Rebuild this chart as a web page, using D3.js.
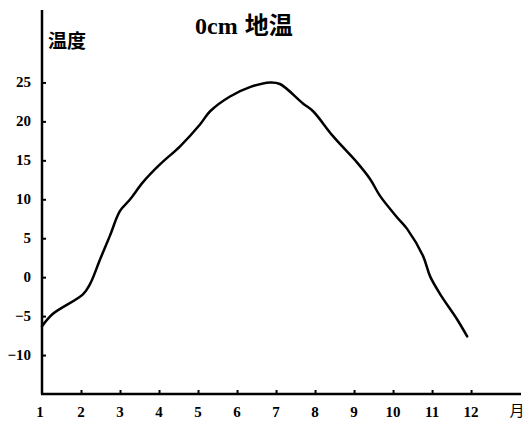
<!DOCTYPE html>
<html><head><meta charset="utf-8">
<script src="https://cdn.jsdelivr.net/npm/d3@7"></script>
<style>body{margin:0;background:#fff}</style>
</head><body>
<svg id="c" width="527" height="425"></svg>
<script>
const months = [1,1.28,2.05,2.23,2.49,2.74,3.0,3.26,3.59,4.03,4.54,5.05,5.31,5.82,6.33,6.85,7.1,7.69,7.95,8.46,9.08,9.41,9.67,10.1,10.36,10.77,10.95,11.21,11.64,11.9];
const temps  = [-6.3,-4.7,-2.2,-0.9,2.3,5.3,8.5,10.0,12.2,14.5,16.8,19.6,21.3,23.2,24.4,25.0,24.8,22.3,21.3,18.1,14.7,12.6,10.4,7.7,6.2,2.7,0.1,-2.2,-5.4,-7.6];
const xTicks = [1,2,3,4,5,6,7,8,9,10,11,12];
const yTicks = [-10,-5,0,5,10,15,20,25];
const titleLatin = "0cm";
const titleCJK = "地温";
const yTitle = "温度";
const xUnit = "月";

const svg = d3.select("#c");
const x = d3.scaleLinear().domain([1, 13.28]).range([42, 521]);
const y = d3.scaleLinear().domain([-15, 34.3]).range([394, 10]);

const serif = "'Liberation Serif','DejaVu Serif',serif";
const cjk = "'Noto Sans CJK SC',sans-serif";

// y axis
const ya = svg.append("g").attr("transform","translate(42,0)")
  .call(d3.axisRight(y).tickValues(yTicks).tickSize(4).tickFormat(""));
ya.select(".domain").remove();
ya.selectAll("line").attr("stroke","#000").attr("stroke-width",2);
svg.append("line").attr("x1",42).attr("x2",42).attr("y1",y(34.3)).attr("y2",y(-15))
  .attr("stroke","#000").attr("stroke-width",2.5);
svg.selectAll(".yl").data(yTicks).enter().append("text")
  .attr("x",31).attr("y",d=>y(d)+5).attr("text-anchor","end")
  .attr("font-family",serif).attr("font-weight","bold").attr("font-size",15).attr("fill","#000")
  .text(d=> d<0 ? "−"+Math.abs(d) : d);

// x axis
const xa = svg.append("g").attr("transform","translate(0,394)")
  .call(d3.axisTop(x).tickValues(xTicks.slice(1)).tickSize(4).tickFormat(""));
xa.select(".domain").remove();
xa.selectAll("line").attr("stroke","#000").attr("stroke-width",2);
svg.append("line").attr("x1",41).attr("x2",x(13.28)).attr("y1",394).attr("y2",394)
  .attr("stroke","#000").attr("stroke-width",2.5);
svg.selectAll(".xl").data(xTicks).enter().append("text")
  .attr("x",d=> d===1 ? x(d)-2 : x(d)).attr("y",417).attr("text-anchor","middle")
  .attr("font-family",serif).attr("font-weight","bold").attr("font-size",15).attr("fill","#000")
  .text(d=>d);
svg.append("text").attr("x",517).attr("y",416).attr("text-anchor","middle")
  .attr("font-family",cjk).attr("font-size",15).attr("fill","#000")
  .text(xUnit);

// titles
const t = svg.append("text").attr("x",195).attr("y",34).attr("fill","#000").attr("font-weight","bold");
t.append("tspan").attr("font-family",serif).attr("font-size",24).text(titleLatin);
t.append("tspan").attr("dx",7).attr("font-family",cjk).attr("font-size",24).text(titleCJK);
svg.append("text").attr("x",48).attr("y",48)
  .attr("font-family",cjk).attr("font-weight","bold").attr("font-size",19).attr("fill","#000")
  .text(yTitle);

// curve
const pts = months.map((m,i)=>[m,temps[i]]);
svg.append("path").datum(pts)
  .attr("fill","none").attr("stroke","#000").attr("stroke-width",2.5)
  .attr("stroke-linejoin","round").attr("stroke-linecap","round")
  .attr("d", d3.line().x(d=>x(d[0])).y(d=>y(d[1])).curve(d3.curveCatmullRom.alpha(0.5)));
</script>
</body></html>
